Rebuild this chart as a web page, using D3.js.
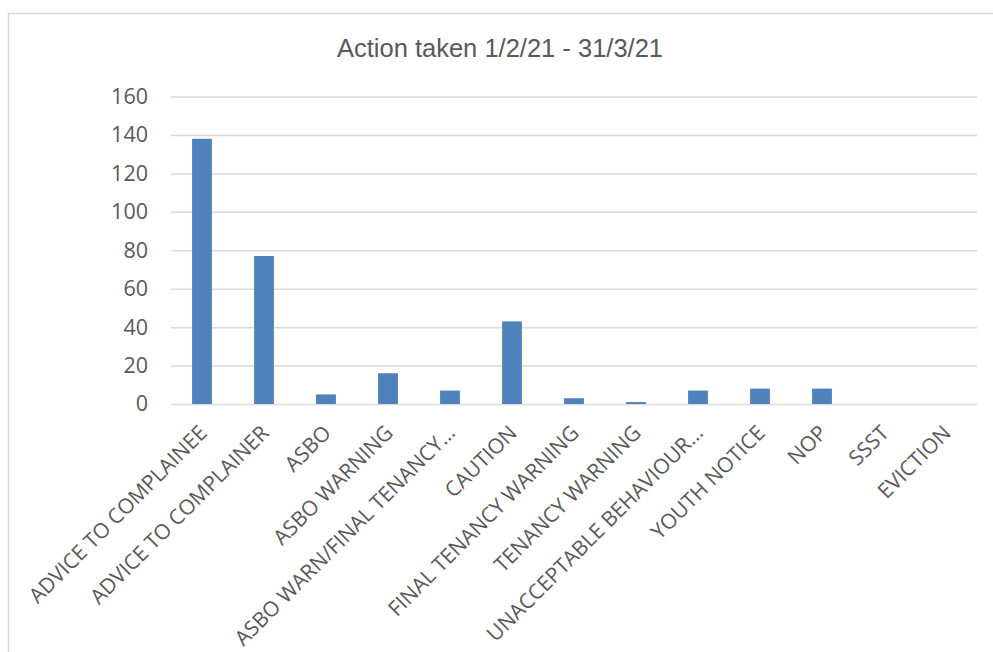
<!DOCTYPE html>
<html><head><meta charset="utf-8">
<script src="https://cdn.jsdelivr.net/npm/d3@7"></script>
<style>body{margin:0;background:#fff;}svg{display:block;}</style>
</head><body>
<script>
const title = "Action taken 1/2/21 - 31/3/21";
const categories = ["ADVICE TO COMPLAINEE","ADVICE TO COMPLAINER","ASBO","ASBO WARNING","ASBO WARN/FINAL TENANCY…","CAUTION","FINAL TENANCY WARNING","TENANCY WARNING","UNACCEPTABLE BEHAVIOUR…","YOUTH NOTICE","NOP","SSST","EVICTION"];
const values = [138,77,5,16,7,43,3,1,7,8,8,0,0];
const yTicks = [0,20,40,60,80,100,120,140,160];

(function () {
const W = 993, H = 652;
const svg = d3.select("body").append("svg").attr("width", W).attr("height", H);
svg.append("rect").attr("x", 8.5).attr("y", 13.5).attr("width", 1000).attr("height", 700)
  .attr("fill", "#fff").attr("stroke", "#d9d9d9").attr("stroke-width", 1.5);

const pLeft = 171, pRight = 977, pTop = 96.5, pBottom = 404;
const x = d3.scaleBand().domain(categories).range([pLeft, pRight]).paddingInner(0.68).paddingOuter(0.34);
const y = d3.scaleLinear().domain([0, 160]).range([pBottom, pTop]);

svg.append("text").attr("x", 500).attr("y", 57).attr("text-anchor", "middle")
  .attr("font-family", "Liberation Sans, Arial, sans-serif").attr("font-size", 25.5).attr("fill", "#595959").text(title);

const yAxis = svg.append("g").attr("transform", `translate(${pLeft},0)`)
  .call(d3.axisLeft(y).tickValues(yTicks).tickSize(-(pRight - pLeft)).tickPadding(23));
yAxis.select(".domain").remove();
yAxis.selectAll(".tick line").attr("stroke", "#d9d9d9").attr("stroke-width", 1.5);
yAxis.selectAll(".tick text").attr("font-family", "Open Sans, sans-serif").attr("font-size", 21.5).attr("fill", "#595959");

svg.append("g").selectAll("rect").data(values).join("rect")
  .attr("x", (d, i) => x(categories[i])).attr("width", x.bandwidth())
  .attr("y", d => y(d)).attr("height", d => pBottom - y(d)).attr("fill", "#4f81bd");

const xAxis = svg.append("g").attr("transform", `translate(0,${pBottom})`)
  .call(d3.axisBottom(x).tickSize(0).tickPadding(0));
xAxis.select(".domain").remove();
xAxis.selectAll(".tick text")
  .attr("font-family", "Open Sans, sans-serif").attr("font-size", 21).attr("fill", "#595959")
  .attr("text-anchor", "end").attr("dy", "0.35em")
  .attr("transform", "translate(1,25) rotate(-45)");
})();
</script>
</body></html>
